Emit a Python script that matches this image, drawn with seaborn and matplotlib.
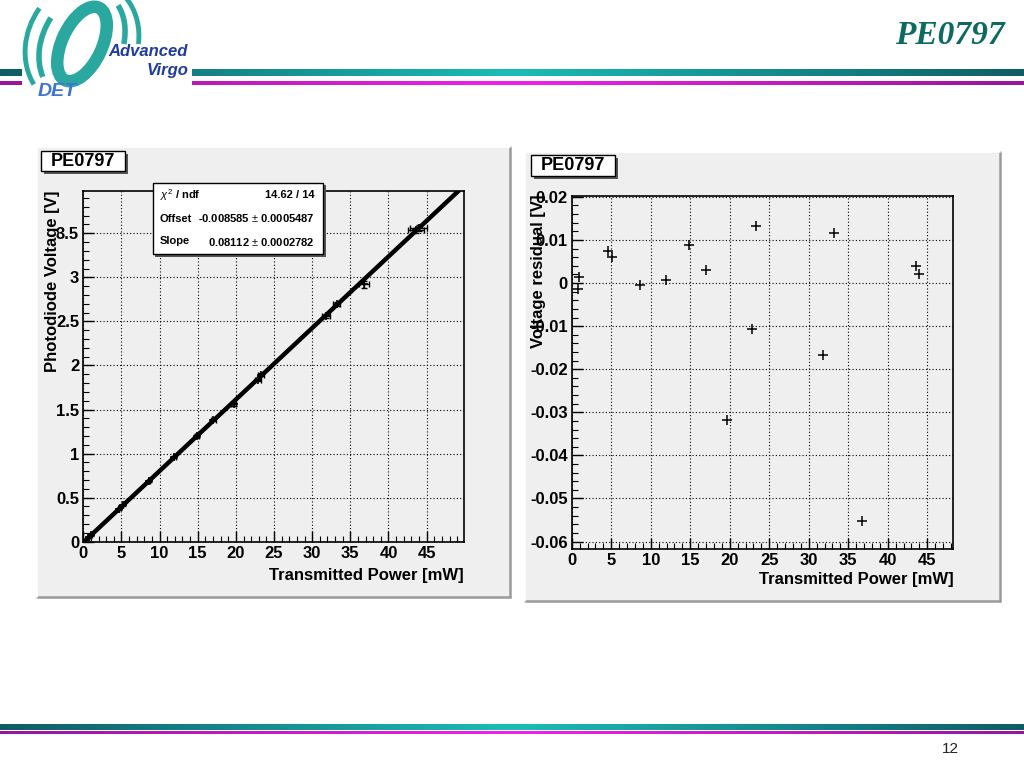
import numpy as np
import pandas as pd
import matplotlib
matplotlib.use('Agg')
import matplotlib.pyplot as plt
import seaborn as sns
from matplotlib.patches import Rectangle, Ellipse, Arc
from matplotlib.ticker import MultipleLocator, FuncFormatter
from matplotlib.colors import LinearSegmentedColormap

# values
power_mw = [0.76, 0.97, 4.64, 5.14, 8.65, 11.9, 14.85, 17.04, 19.7, 22.86,
            23.3, 31.85, 33.2, 36.8, 43.6, 43.96]
voltage_v = [0.0516, 0.0714, 0.3752, 0.4144, 0.6926, 0.9575, 1.2049, 1.3767,
             1.5576, 1.8351, 1.8948, 2.5584, 2.6962, 2.9213, 3.5322, 3.5597]
residual_v = [-0.0015, 0.0013, 0.0074, 0.0060, -0.0005, 0.0008, 0.0089, 0.0030,
              -0.0319, -0.0107, 0.0133, -0.0167, 0.0116, -0.0553, 0.0040, 0.0022]
power_err = [0.05, 0.05, 0.1, 0.1, 0.15, 0.2, 0.25, 0.3, 0.35, 0.4,
             0.4, 0.5, 0.5, 0.6, 1.1, 1.1]
voltage_err = [0.01, 0.01, 0.01, 0.01, 0.01, 0.01, 0.012, 0.012, 0.015, 0.015,
               0.015, 0.02, 0.02, 0.04, 0.03, 0.03]

fit_offset = -0.008585
fit_offset_err = 0.0005487
fit_slope = 0.08112
fit_slope_err = 0.0002782
chi2, ndf = 14.62, 14

df = pd.DataFrame({'power': power_mw, 'voltage': voltage_v, 'resid': residual_v})
fit_df = pd.DataFrame({'power': [0.0, 49.9]})
fit_df['voltage'] = fit_offset + fit_slope * fit_df['power']

sns.set_style('ticks')
plt.rcParams['font.family'] = ['Liberation Sans', 'DejaVu Sans']
plt.rcParams['mathtext.fontset'] = 'custom'
plt.rcParams['mathtext.rm'] = 'Liberation Sans'
plt.rcParams['mathtext.it'] = 'Liberation Sans:italic'
plt.rcParams['text.color'] = 'black'
plt.rcParams['axes.labelcolor'] = 'black'
plt.rcParams['xtick.color'] = 'black'
plt.rcParams['ytick.color'] = 'black'

W, H = 1024, 768
fig = plt.figure(figsize=(10.24, 7.68), dpi=100)
fig.patch.set_facecolor('white')

# background layer in pixel coordinates
bg = fig.add_axes([0, 0, 1, 1])
bg.axis('off')

teal = LinearSegmentedColormap.from_list('teal', ['#0e5d63', '#1bbcb8', '#0e5d63'])
mag = LinearSegmentedColormap.from_list('mag', ['#9a149a', '#ee22ee', '#9a149a'])
grad = np.linspace(0, 1, 512).reshape(1, -1)

def band(ax, cmap, y0, y1):
    ax.imshow(grad, cmap=cmap, extent=(0, W, y1, y0), aspect='auto', zorder=1)

band(bg, teal, 69, 76)
band(bg, mag, 81.5, 85)
band(bg, teal, 725, 730.5)
band(bg, mag, 731.5, 734.5)
bg.add_patch(Rectangle((22, 60), 170, 30, facecolor='white', edgecolor='none', zorder=2))
bg.set_xlim(0, W)
bg.set_ylim(H, 0)

# logo
ring = '#2aa8a0'
bg.add_patch(Ellipse((82, 44), 40, 80, angle=25, facecolor='none', edgecolor=ring, lw=9, zorder=3))
for w, h, lw in [(80, 110, 4.0), (110, 130, 3.5)]:
    bg.add_patch(Arc((82, 44), w, h, angle=25, theta1=115, theta2=195, color=ring, lw=lw, zorder=3))
    bg.add_patch(Arc((82, 44), w, h, angle=25, theta1=-72, theta2=-25, color=ring, lw=lw, zorder=3))
bg.text(108, 52, 'Advanced', fontsize=12, fontweight='bold', style='italic', color='#1f3c9c',
        ha='left', va='center', zorder=4)
bg.text(147, 70, 'Virgo', fontsize=12, fontweight='bold', style='italic', color='#1f3c9c',
        ha='left', va='center', zorder=4)
bg.text(38, 91, 'DET', fontsize=14, fontweight='bold', style='italic', color='#3f74d0',
        ha='left', va='center', zorder=4)

bg.text(1005, 36, 'PE0797', fontsize=24, fontweight='bold', style='italic', color='#0c6a60',
        family='Liberation Serif', ha='right', va='center')
bg.text(950, 749, '12', fontsize=11, color='#222222', ha='center', va='center')

# panel frames
def panel(x0, y0, x1, y1):
    bg.add_patch(Rectangle((x0, y0), x1 - x0, y1 - y0, facecolor='#efefef', edgecolor='none', zorder=1))
    bg.plot([x0, x1], [y1, y1], color='#9a9a9a', lw=1.8, zorder=2)
    bg.plot([x1, x1], [y0, y1], color='#9a9a9a', lw=1.8, zorder=2)
    bg.plot([x0, x1], [y0, y0], color='#ffffff', lw=1.2, zorder=2)
    bg.plot([x0, x0], [y0, y1], color='#ffffff', lw=1.2, zorder=2)

panel(37, 147, 510, 597)
panel(525, 152, 1000, 601)

def fmt(v, pos):
    if abs(v) < 1e-9:
        return '0'
    return '%g' % round(v, 4)

def style_axes(ax, xmaj, xmin, ymaj, ymin):
    ax.set_facecolor('#efefef')
    ax.xaxis.set_major_locator(MultipleLocator(xmaj))
    ax.xaxis.set_minor_locator(MultipleLocator(xmin))
    ax.yaxis.set_major_locator(MultipleLocator(ymaj))
    ax.yaxis.set_minor_locator(MultipleLocator(ymin))
    ax.xaxis.set_major_formatter(FuncFormatter(fmt))
    ax.yaxis.set_major_formatter(FuncFormatter(fmt))
    ax.tick_params(which='major', direction='in', length=8, width=1.0, labelsize=12, pad=3,
                   colors='black')
    ax.tick_params(which='minor', direction='in', length=4, width=0.8, colors='black')
    ax.tick_params(top=False, right=False)
    for lab in ax.get_xticklabels() + ax.get_yticklabels():
        lab.set_fontweight('bold')
    ax.grid(True, which='major', color='black', linestyle=(0, (1, 2)), lw=0.8)
    ax.set_axisbelow(True)
    for s in ax.spines.values():
        s.set_color('black')
        s.set_linewidth(1.2)

def px_axes(x0, y0, x1, y1):
    return fig.add_axes([x0 / W, (H - y1) / H, (x1 - x0) / W, (y1 - y0) / H])

# left: photodiode voltage vs transmitted power
ax1 = px_axes(83.3, 191, 464, 541.7)
ax1.errorbar(df['power'], df['voltage'], xerr=power_err, yerr=voltage_err, fmt='none',
             ecolor='black', elinewidth=1.0, capsize=2.5, zorder=3)
sns.scatterplot(data=df, x='power', y='voltage', ax=ax1, marker='+', color='black',
                s=40, linewidth=1.2, zorder=4, legend=False)
sns.lineplot(data=fit_df, x='power', y='voltage', ax=ax1, color='black', lw=3.2, zorder=5)
ax1.set_xlim(0, 49.9)
ax1.set_ylim(0, 3.98)
style_axes(ax1, 5, 1, 0.5, 0.1)
ax1.set_xlabel('Transmitted Power [mW]', fontsize=12, fontweight='bold', loc='right')
ax1.set_ylabel('Photodiode Voltage [V]', fontsize=12, fontweight='bold', loc='top')
ax1.xaxis.set_label_coords(1.0, -0.075)
ax1.yaxis.set_label_coords(-0.062, 1.0)

# right: residuals
ax2 = px_axes(571.7, 196, 953.3, 549.3)
sns.scatterplot(data=df, x='power', y='resid', ax=ax2, marker='+', color='black',
                s=60, linewidth=1.1, zorder=4, legend=False)
ax2.set_xlim(0, 48.3)
ax2.set_ylim(-0.0618, 0.0202)
style_axes(ax2, 5, 1, 0.01, 0.002)
ax2.set_xlabel('Transmitted Power [mW]', fontsize=12, fontweight='bold', loc='right')
ax2.set_ylabel('Voltage residual [V]', fontsize=12, fontweight='bold', loc='top')
ax2.xaxis.set_label_coords(1.0, -0.065)
ax2.yaxis.set_label_coords(-0.068, 1.005)

# foreground layer: title boxes and fit statistics
fg = fig.add_axes([0, 0, 1, 1], zorder=10)
fg.set_xlim(0, W)
fg.set_ylim(H, 0)
fg.axis('off')
fg.patch.set_alpha(0)

def box(x0, y0, x1, y1, sh=2.5):
    fg.add_patch(Rectangle((x0 + sh, y0 + sh), x1 - x0, y1 - y0, facecolor='#555555', edgecolor='none'))
    fg.add_patch(Rectangle((x0, y0), x1 - x0, y1 - y0, facecolor='white', edgecolor='black', lw=1.0))

box(41, 151, 125, 171)
fg.text(83, 161.5, 'PE0797', fontsize=13, fontweight='bold', ha='center', va='center')
box(531, 155, 615, 176)
fg.text(573, 165.5, 'PE0797', fontsize=13, fontweight='bold', ha='center', va='center')

box(152.5, 182.5, 323, 254, sh=2.5)
rows = [(r'$\chi^{2}$ / ndf', '%.2f / %d' % (chi2, ndf), 195),
        ('Offset', '%.6f' % fit_offset + r' $\pm$ ' + '%.7f' % fit_offset_err, 218.5),
        ('Slope', '%.5f' % fit_slope + r' $\pm$ ' + '%.7f' % fit_slope_err, 241.5)]
for lab, val, yy in rows:
    fg.text(160, yy, lab, fontsize=8, fontweight='bold', ha='left', va='center')
    fg.text(315, yy, val, fontsize=8, fontweight='bold', ha='right', va='center')

fig.savefig('out.png', dpi=100, facecolor='white')
